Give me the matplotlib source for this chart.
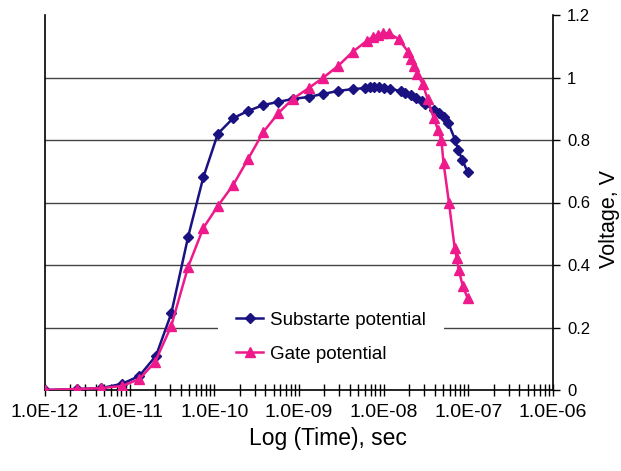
import matplotlib
matplotlib.use("Agg")
import matplotlib.pyplot as plt
from matplotlib.ticker import LogLocator, FixedLocator, NullFormatter, FuncFormatter

plt.rcParams['font.family'] = ['Liberation Sans', 'DejaVu Sans']

# Time points (s) and potentials (V)
sub_time = [1.0e-12, 2.4e-12, 4.6e-12, 8.2e-12, 1.3e-11, 2.05e-11, 3.1e-11, 4.9e-11,
            7.4e-11, 1.1e-10, 1.67e-10, 2.5e-10, 3.8e-10, 5.7e-10, 8.4e-10, 1.3e-9,
            1.9e-9, 2.9e-9, 4.3e-9, 6.1e-9, 6.9e-9, 7.7e-9, 8.7e-9, 1.0e-8, 1.2e-8,
            1.6e-8, 1.8e-8, 2.1e-8, 2.4e-8, 2.8e-8, 3.1e-8, 3.9e-8, 4.5e-8, 5.1e-8,
            5.8e-8, 7.0e-8, 7.6e-8, 8.5e-8, 9.8e-8]
sub_volt = [0.0, 0.003, 0.006, 0.02, 0.045, 0.11, 0.245, 0.49,
            0.68, 0.82, 0.87, 0.893, 0.912, 0.922, 0.931, 0.938,
            0.947, 0.957, 0.963, 0.966, 0.97, 0.97, 0.97, 0.966, 0.963,
            0.957, 0.95, 0.944, 0.934, 0.925, 0.915, 0.896, 0.886, 0.874,
            0.854, 0.80, 0.768, 0.736, 0.698]

gate_time = [1.0e-12, 2.4e-12, 4.6e-12, 8.2e-12, 1.3e-11, 2.0e-11, 3.1e-11, 4.9e-11,
             7.4e-11, 1.1e-10, 1.67e-10, 2.5e-10, 3.8e-10, 5.7e-10, 8.4e-10, 1.3e-9,
             1.9e-9, 2.9e-9, 4.3e-9, 6.3e-9, 7.4e-9, 8.5e-9, 9.8e-9, 1.15e-8, 1.5e-8,
             1.95e-8, 2.1e-8, 2.3e-8, 2.5e-8, 2.9e-8, 3.3e-8, 3.9e-8, 4.4e-8, 4.8e-8,
             5.1e-8, 5.9e-8, 6.9e-8, 7.3e-8, 7.7e-8, 8.6e-8, 9.8e-8]
gate_volt = [0.0, 0.003, 0.006, 0.013, 0.035, 0.09, 0.205, 0.394,
             0.518, 0.589, 0.656, 0.739, 0.826, 0.886, 0.931, 0.966,
             0.998, 1.037, 1.082, 1.117, 1.13, 1.136, 1.142, 1.142, 1.123,
             1.082, 1.059, 1.037, 1.011, 0.979, 0.931, 0.870, 0.832, 0.80,
             0.726, 0.60, 0.454, 0.422, 0.384, 0.333, 0.294]

x_decades = [1e-12, 1e-11, 1e-10, 1e-9, 1e-8, 1e-7, 1e-6]
y_ticks = [0, 0.2, 0.4, 0.6, 0.8, 1.0, 1.2]
y_labels = ['0', '0.2', '0.4', '0.6', '0.8', '1', '1.2']

navy = '#1b1282'
pink = '#ee1a8c'

fig = plt.figure(figsize=(6.21, 4.71), dpi=100)
ax = fig.add_axes([45 / 621, 1 - 390 / 471, 508 / 621, 375 / 471])

# horizontal grid lines (none at the top limit)
for v in y_ticks[1:-1]:
    ax.axhline(v, color='#444444', lw=1.0, zorder=1)

ax.plot(sub_time, sub_volt, color=navy, lw=1.8, marker='D', ms=5.5,
        label='Substarte potential', zorder=3)
ax.plot(gate_time, gate_volt, color=pink, lw=1.8, marker='^', ms=7,
        label='Gate potential', zorder=4)

ax.set_xscale('log')
ax.set_xlim(x_decades[0], x_decades[-1])
ax.set_ylim(y_ticks[0], y_ticks[-1])

ax.xaxis.set_major_locator(FixedLocator(x_decades))
ax.xaxis.set_minor_locator(LogLocator(base=10, subs=range(2, 10), numticks=20))
ax.xaxis.set_minor_formatter(NullFormatter())
ax.xaxis.set_major_formatter(FuncFormatter(lambda v, p: '%.1E' % v))
ax.tick_params(axis='x', which='both', direction='inout', length=8, width=1,
               labelsize=14, pad=6, color='black')

ax.yaxis.tick_right()
ax.set_yticks(y_ticks)
ax.set_yticklabels(y_labels)
ax.tick_params(axis='y', direction='out', length=5, width=1, labelsize=12, pad=5)

ax.spines['top'].set_visible(False)
for s in ('left', 'right', 'bottom'):
    ax.spines[s].set_linewidth(1.2)
    ax.spines[s].set_color('black')

ax.set_xlabel('Log (Time), sec', fontsize=16.5)
ax.xaxis.set_label_coords(0.557, -0.10)
ax.set_ylabel('Voltage, V', fontsize=15.5, rotation=90)
ax.yaxis.set_label_coords(1.132, 0.456)

leg = ax.legend(loc='lower left', bbox_to_anchor=(0.34, 0.022), fontsize=13.5,
                frameon=True, fancybox=False, handlelength=1.4, handletextpad=0.37,
                labelspacing=0.9, borderpad=1.0, borderaxespad=0)
leg.get_frame().set_facecolor('white')
leg.get_frame().set_edgecolor('none')
leg.get_frame().set_alpha(1.0)
leg.set_zorder(5)

fig.savefig('out.png', dpi=100)
